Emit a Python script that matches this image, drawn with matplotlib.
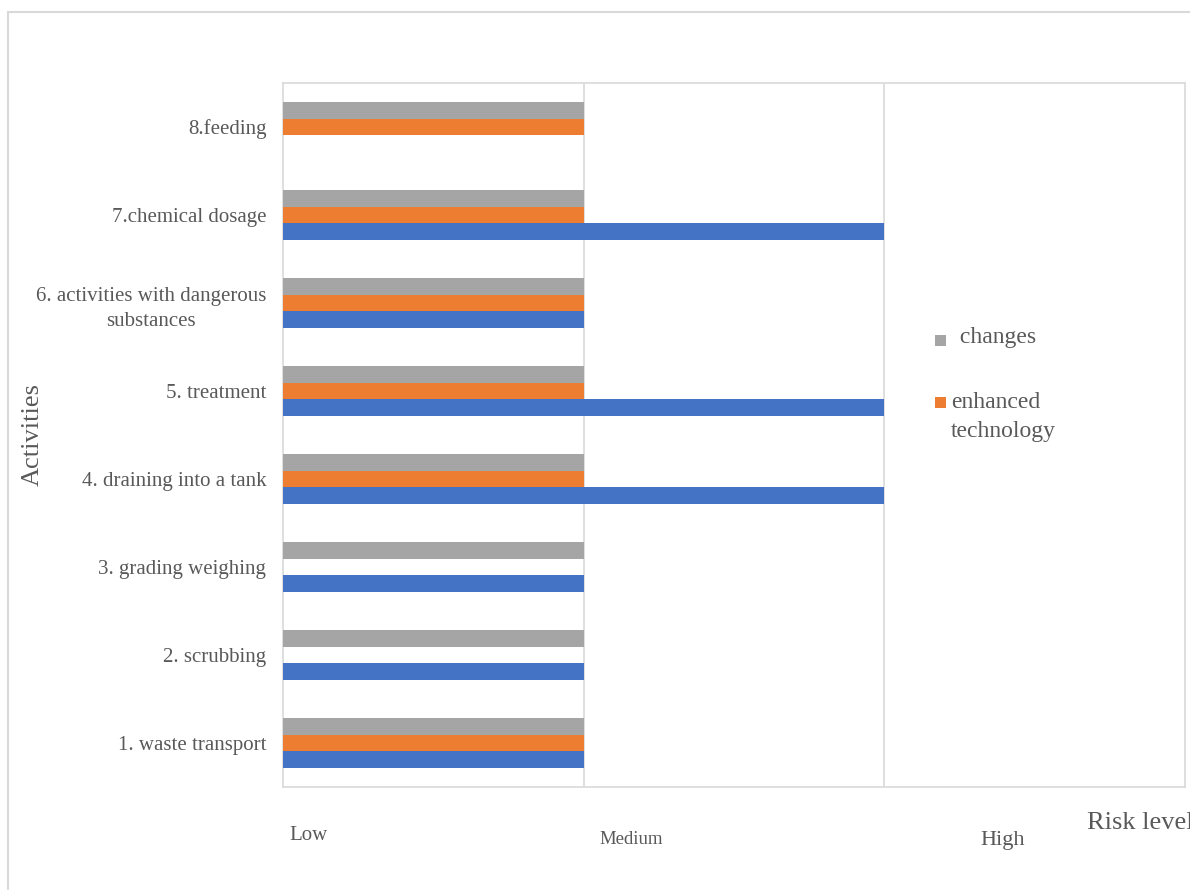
import matplotlib
matplotlib.use("Agg")
import matplotlib.pyplot as plt
from matplotlib.patches import Rectangle
import numpy as np

plt.rcParams['font.family'] = ['Liberation Serif', 'DejaVu Serif']

activities = ["1. waste transport", "2. scrubbing", "3. grading weighing",
              "4. draining into a tank", "5. treatment",
              "6. activities with dangerous\nsubstances", "7.chemical dosage",
              "8.feeding"]
# risk level: 0 = none, 1 = medium, 2 = high
initial = [1, 1, 1, 2, 2, 1, 2, 0]
enhanced = [1, 0, 0, 1, 1, 1, 1, 1]
changes = [1, 1, 1, 1, 1, 1, 1, 1]
level_labels = ["Low", "Medium", "High"]

BLUE = "#4472c4"
ORANGE = "#ed7d31"
GRAY = "#a5a5a5"
TXT = "#595959"
GRID = "#d9d9d9"

W, H = 1190, 890
fig = plt.figure(figsize=(11.9, 8.9), dpi=100)
fig.patches.append(Rectangle((8 / W, -0.01), 1.1, 1 - 12 / H + 0.01, transform=fig.transFigure,
                             fill=False, edgecolor=GRID, linewidth=1.5))
ax = fig.add_axes([283 / W, 1 - 787 / H, 902 / W, 704 / H])

y = np.arange(len(activities))
h = 0.19
ax.barh(y + h, changes, height=h, color=GRAY, linewidth=0, zorder=3)
ax.barh(y, enhanced, height=h, color=ORANGE, linewidth=0, zorder=3)
ax.barh(y - h, initial, height=h, color=BLUE, linewidth=0, zorder=3)

ax.set_xlim(0, 3)
ax.set_ylim(-0.5, 7.5)
ax.set_xticks([1, 2])
ax.set_xticklabels([])
ax.tick_params(axis="x", length=0)
ax.grid(axis="x", color=GRID, linewidth=1.2, zorder=0)
ax.set_yticks(y)
ax.set_yticklabels(activities, fontsize=15, color=TXT, ha="right",
                   multialignment="center", linespacing=1.45)
ax.tick_params(axis="y", length=0, pad=12)
for s in ax.spines.values():
    s.set_color(GRID)
    s.set_linewidth(1.2)

# risk level labels under the axis
fig.text(309 / W, 1 - 835 / H, level_labels[0], fontsize=15, color=TXT, ha="center", va="center")
fig.text(631 / W, 1 - 840 / H, level_labels[1], fontsize=13.5, color=TXT, ha="center", va="center")
fig.text(1003 / W, 1 - 841 / H, level_labels[2], fontsize=16, color=TXT, ha="center", va="center")
fig.text(1087 / W, 1 - 823 / H, "Risk level", fontsize=19, color=TXT, ha="left", va="center")
fig.text(33 / W, 1 - 435 / H, "Activities", fontsize=19, color=TXT,
         rotation=90, ha="center", va="center")

# legend (only two series are listed)
fig.patches.append(Rectangle((935 / W, 1 - 346 / H), 11 / W, 11 / H, transform=fig.transFigure,
                             color=GRAY, linewidth=0))
fig.text(954 / W, 1 - 338 / H, " changes", fontsize=17, color=TXT, ha="left", va="center")
fig.patches.append(Rectangle((935 / W, 1 - 408 / H), 11 / W, 11 / H, transform=fig.transFigure,
                             color=ORANGE, linewidth=0))
fig.text(951 / W, 1 - 402 / H, "enhanced", fontsize=17, color=TXT, ha="left", va="center")
fig.text(951 / W, 1 - 431 / H, "technology", fontsize=17, color=TXT, ha="left", va="center")

fig.savefig("out.png", dpi=100)
